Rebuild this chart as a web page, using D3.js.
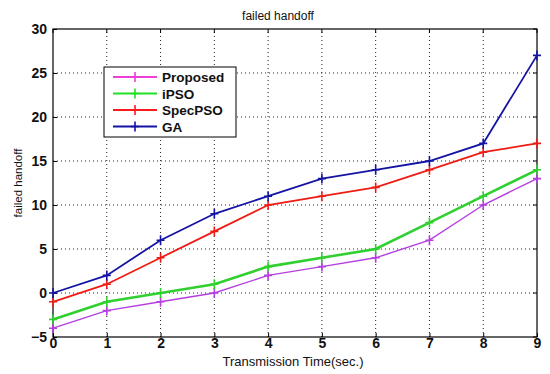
<!DOCTYPE html>
<html>
<head>
<meta charset="utf-8">
<script src="https://cdn.jsdelivr.net/npm/d3@7"></script>
<style>
  body { margin: 0; background: #fff; }
  svg { display: block; font-family: "Liberation Sans", Arial, sans-serif; }
</style>
</head>
<body>
<div id="chart"></div>
<script>
// data
var times = [0, 1, 2, 3, 4, 5, 6, 7, 8, 9];
var proposed = [-4, -2, -1, 0, 2, 3, 4, 6, 10, 13];
var ipso = [-3, -1, 0, 1, 3, 4, 5, 8, 11, 14];
var specpso = [-1, 1, 4, 7, 10, 11, 12, 14, 16, 17];
var ga = [0, 2, 6, 9, 11, 13, 14, 15, 17, 27];
var seriesNames = ["Proposed", "iPSO", "SpecPSO", "GA"];
var yTicks = [-5, 0, 5, 10, 15, 20, 25, 30];

var W = 550, H = 374;
var margin = {left: 53, right: 13, top: 29, bottom: 37};

var series = [
  {name: seriesNames[0], values: proposed, color: "#b43ee0", legend: "#ee3ed6", width: 1.4},
  {name: seriesNames[1], values: ipso, color: "#2fd02f", legend: "#22e022", width: 2.6},
  {name: seriesNames[2], values: specpso, color: "#ee1c14", legend: "#ff1a1a", width: 1.8},
  {name: seriesNames[3], values: ga, color: "#1414a4", legend: "#1414a4", width: 1.8}
];

var svg = d3.select("#chart").append("svg")
  .attr("width", W)
  .attr("height", H);

var x = d3.scaleLinear().domain([0, 9]).range([margin.left, W - margin.right]);
var y = d3.scaleLinear().domain([-5, 30]).range([H - margin.bottom, margin.top]);

// grid (dotted)
var grid = svg.append("g");
grid.selectAll(".vg")
  .data(times.slice(1, -1))
  .enter().append("line")
    .attr("x1", function (d) { return x(d); })
    .attr("x2", function (d) { return x(d); })
    .attr("y1", y(-5)).attr("y2", y(30))
    .attr("stroke", "#222").attr("stroke-width", 1)
    .attr("stroke-dasharray", "1,3");
grid.selectAll(".hg")
  .data(yTicks.slice(1, -1))
  .enter().append("line")
    .attr("y1", function (d) { return y(d); })
    .attr("y2", function (d) { return y(d); })
    .attr("x1", x(0)).attr("x2", x(9))
    .attr("stroke", "#222").attr("stroke-width", 1)
    .attr("stroke-dasharray", "1,3");

// axes, ticks inside
var xAxis = d3.axisBottom(x).tickValues(times).tickSize(-4).tickPadding(1).tickFormat(d3.format("d"));
var yAxis = d3.axisLeft(y).tickValues(yTicks).tickSize(-4).tickPadding(6);

var gx = svg.append("g").attr("transform", "translate(0," + y(-5) + ")").call(xAxis);
var gy = svg.append("g").attr("transform", "translate(" + x(0) + ",0)").call(yAxis);
[gx, gy].forEach(function (g) {
  g.select(".domain").remove();
  g.selectAll(".tick line").attr("stroke", "#000");
  g.selectAll("text")
    .attr("fill", "#111")
    .style("font-size", "14px")
    .style("font-weight", "bold");
});
// top / right ticks
svg.append("g").selectAll("line").data(times).enter().append("line")
  .attr("x1", function (d) { return x(d); }).attr("x2", function (d) { return x(d); })
  .attr("y1", y(30)).attr("y2", y(30) + 4).attr("stroke", "#000");
svg.append("g").selectAll("line").data(yTicks).enter().append("line")
  .attr("y1", function (d) { return y(d); }).attr("y2", function (d) { return y(d); })
  .attr("x1", x(9)).attr("x2", x(9) - 4).attr("stroke", "#000");

// box
svg.append("rect")
  .attr("x", x(0)).attr("y", y(30))
  .attr("width", x(9) - x(0)).attr("height", y(-5) - y(30))
  .attr("fill", "none").attr("stroke", "#000").attr("stroke-width", 1.2);

// lines
var line = d3.line()
  .x(function (d, i) { return x(times[i]); })
  .y(function (d) { return y(d); });

var plus = function (g, cx, cy, color) {
  g.append("path")
    .attr("d", "M" + (cx - 4) + "," + cy + "H" + (cx + 4) + "M" + cx + "," + (cy - 5) + "V" + (cy + 5))
    .attr("stroke", color).attr("stroke-width", 1.6).attr("fill", "none");
};

series.forEach(function (s) {
  var g = svg.append("g");
  g.append("path")
    .datum(s.values)
    .attr("d", line)
    .attr("fill", "none")
    .attr("stroke", s.color)
    .attr("stroke-width", s.width);
  s.values.forEach(function (v, i) {
    plus(g, x(times[i]), y(v), s.color);
  });
});

// legend
var lg = svg.append("g").attr("transform", "translate(104,67)");
lg.append("rect")
  .attr("width", 132).attr("height", 70)
  .attr("fill", "#fff").attr("stroke", "#000").attr("stroke-width", 1);
series.forEach(function (s, i) {
  var ly = 10 + i * 16.5;
  lg.append("line")
    .attr("x1", 9).attr("x2", 53).attr("y1", ly).attr("y2", ly)
    .attr("stroke", s.legend).attr("stroke-width", 2);
  plus(lg, 31, ly, s.legend);
  lg.append("text")
    .attr("x", 58).attr("y", ly + 5)
    .style("font-size", "13.5px").style("font-weight", "bold")
    .attr("fill", "#111")
    .text(s.name);
});

// titles
svg.append("text")
  .attr("x", 278).attr("y", 20)
  .attr("text-anchor", "middle")
  .style("font-size", "12px").attr("fill", "#111")
  .text("failed handoff");
svg.append("text")
  .attr("x", 293).attr("y", 366)
  .attr("text-anchor", "middle")
  .style("font-size", "13px").attr("fill", "#111")
  .text("Transmission Time(sec.)");
svg.append("text")
  .attr("transform", "translate(22," + ((y(30) + y(-5)) / 2) + ") rotate(-90)")
  .attr("text-anchor", "middle")
  .style("font-size", "11.5px").attr("fill", "#111")
  .text("failed handoff");
</script>
</body>
</html>
